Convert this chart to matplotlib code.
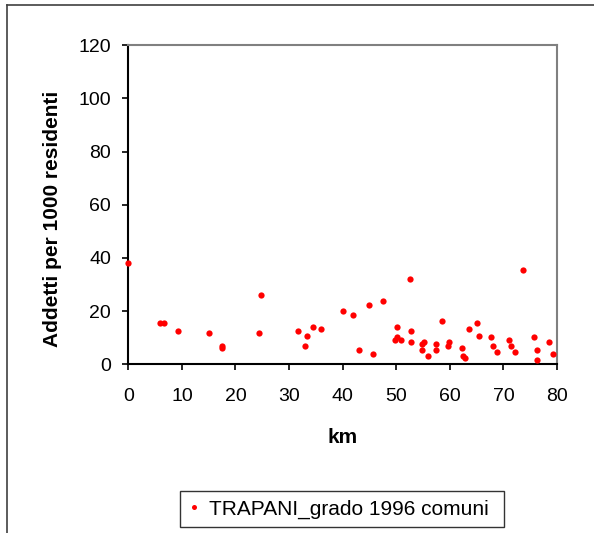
import matplotlib
matplotlib.use("Agg")
import matplotlib.pyplot as plt
from matplotlib.lines import Line2D

plt.rcParams['font.family'] = ['Liberation Sans', 'DejaVu Sans']

km = [0.0, 5.9, 6.7, 9.3, 15.1, 17.4, 17.4, 24.4, 24.8,
      31.75, 32.9, 33.3, 34.4, 35.9, 40.1, 41.9, 43.0, 44.9, 45.7, 47.6,
      49.8, 50.2, 50.2, 50.9, 52.6, 52.8, 52.8,
      54.8, 55.2, 54.8, 55.9, 57.4, 57.4, 58.5, 59.6, 59.9,
      62.2, 62.5, 62.9, 63.6, 65.1, 65.4, 67.6, 68.0, 68.8,
      71.0, 71.4, 72.1, 73.6, 75.8, 76.2, 76.2, 78.5, 79.2]
addetti = [38.0, 15.4, 15.4, 12.4, 11.6, 6.9, 6.2, 11.6, 26.1,
           12.4, 7.0, 10.8, 13.9, 13.1, 20.0, 18.5, 5.5, 22.3, 3.9, 23.8,
           9.3, 13.9, 10.1, 9.3, 32.2, 12.4, 8.5,
           7.8, 8.5, 5.5, 3.2, 7.8, 5.5, 16.2, 7.0, 8.5,
           6.2, 3.2, 2.4, 13.1, 15.4, 10.8, 10.1, 7.0, 4.7,
           9.3, 7.0, 4.7, 35.3, 10.1, 5.5, 1.7, 8.5, 3.9]

xticks = [0, 10, 20, 30, 40, 50, 60, 70, 80]
yticks = [0, 20, 40, 60, 80, 100, 120]

fig = plt.figure(figsize=(5.94, 5.33), dpi=100)
W, H = 594, 533
ax = fig.add_axes([128.3 / W, 1 - 364.3 / H, (557 - 128.3) / W, (364.3 - 45.3) / H])

ax.plot(km, addetti, linestyle='none', marker='o', color='#ff0000',
        markersize=4.5, markeredgewidth=0, label='TRAPANI_grado 1996 comuni',
        clip_on=False, zorder=3)

ax.set_xlim(0, 80)
ax.set_ylim(0, 120)
ax.set_xticks(xticks)
ax.set_yticks(yticks)
ax.tick_params(axis='both', direction='out', length=4.3, width=1.2, labelsize=14,
               color='black')
ax.tick_params(axis='y', pad=8)
ax.tick_params(axis='x', pad=13)
for s in ['left', 'bottom']:
    ax.spines[s].set_color('black')
    ax.spines[s].set_linewidth(1.5)
for s in ['top', 'right']:
    ax.spines[s].set_color('#808080')
    ax.spines[s].set_linewidth(1.5)

ax.set_xlabel('km', fontsize=15, fontweight='bold', labelpad=16)
ax.set_ylabel('Addetti per 1000 residenti', fontsize=15, fontweight='bold', labelpad=12)
ax.yaxis.label.set_y((364.3 - 218.5) / (364.3 - 45.3))

leg = ax.legend(loc='lower left', bbox_to_anchor=(180 / W, 1 - 527 / H, (504 - 180) / W, (527 - 484) / H),
                bbox_transform=fig.transFigure, mode='expand', fontsize=15, frameon=True,
                fancybox=False, edgecolor='black', markerscale=0.8, handlelength=0.5,
                handletextpad=0.5, borderpad=0.4, borderaxespad=0)
leg.get_frame().set_linewidth(1.0)

# outer chart frame
fig.add_artist(Line2D([7 / W, 7 / W], [0, 1 - 5 / H], transform=fig.transFigure,
                      color='#404040', linewidth=1.2))
fig.add_artist(Line2D([7 / W, 1], [1 - 5 / H, 1 - 5 / H], transform=fig.transFigure,
                      color='#404040', linewidth=1.2))

fig.savefig('out.png', dpi=100)
